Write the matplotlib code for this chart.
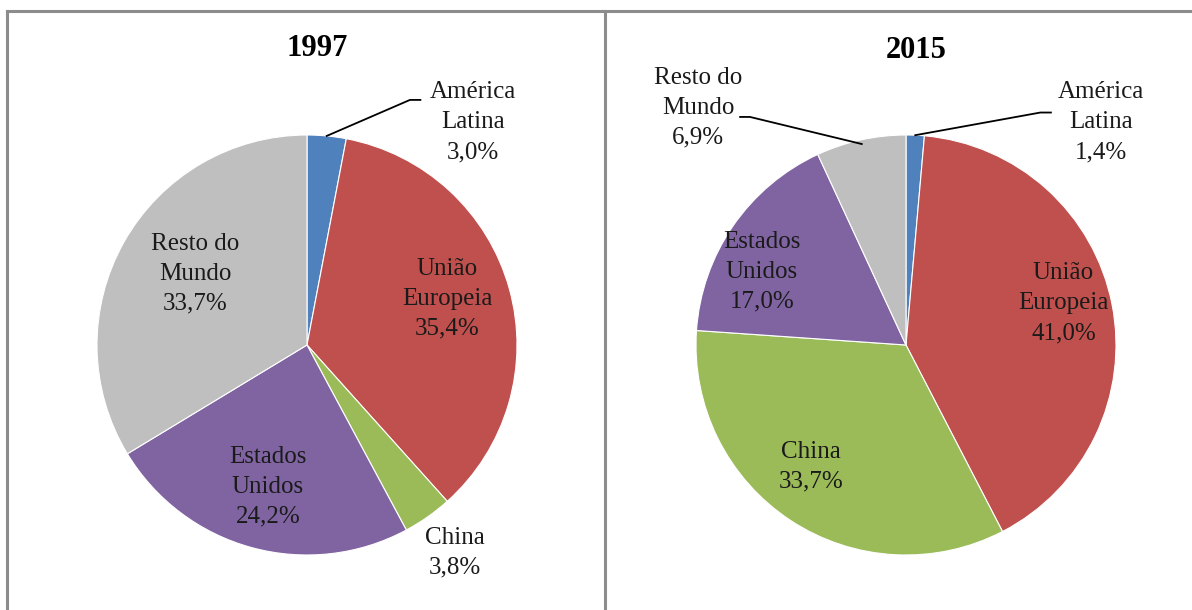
import numpy as np
import matplotlib.pyplot as plt
from matplotlib.lines import Line2D

plt.rcParams['font.family'] = ['Liberation Serif', 'DejaVu Serif']

# Data
categories = ['América\nLatina', 'União\nEuropeia', 'China', 'Estados\nUnidos', 'Resto do\nMundo']
values_1997 = [3.0, 35.4, 3.8, 24.2, 33.7]
values_2015 = [1.4, 41.0, 33.7, 17.0, 6.9]
pct_1997 = ['3,0%', '35,4%', '3,8%', '24,2%', '33,7%']
pct_2015 = ['1,4%', '41,0%', '33,7%', '17,0%', '6,9%']
colors = ['#4F81BD', '#C0504D', '#9BBB59', '#8064A2', '#BFBFBF']

W, H = 1192, 610
fig = plt.figure(figsize=(W / 100, H / 100), dpi=100)


def make_ax(cx, cy, r):
    return fig.add_axes([(cx - r) / W, (H - cy - r) / H, 2 * r / W, 2 * r / H])


ax1 = make_ax(307, 345, 210)
ax2 = make_ax(906, 345, 210)

for ax, vals in [(ax1, values_1997), (ax2, values_2015)]:
    ax.pie(vals, colors=colors, startangle=90, counterclock=False, radius=1,
           wedgeprops=dict(edgecolor='white', linewidth=0.8))
    ax.set_aspect('auto')
    ax.set_xlim(-1, 1)
    ax.set_ylim(-1, 1)
    ax.axis('off')

fs = 18

# label positions (in radius units) for each panel
pos_1997 = [(0.79, 1.06), (0.667, 0.22), (0.705, -0.99), (-0.186, -0.676), (-0.533, 0.34)]
pos_2015 = [(0.93, 1.06), (0.75, 0.2), (-0.452, -0.58), (-0.686, 0.35), (-0.99, 1.13)]

for ax, vals, pcts, pos in [(ax1, values_1997, pct_1997, pos_1997),
                            (ax2, values_2015, pct_2015, pos_2015)]:
    for cat, p, (x, y) in zip(categories, pcts, pos):
        ax.text(x, y, cat + '\n' + p, ha='center', va='center', fontsize=fs,
                linespacing=1.47, color='#1a1a1a')

# leader lines
def leader(ax, vals, idx, pts, rr=1.0):
    cum = np.cumsum([0] + vals)
    mid = 90 - 360 * (cum[idx] + cum[idx + 1]) / 2 / sum(vals)
    ex, ey = np.cos(np.radians(mid)), np.sin(np.radians(mid))
    xs = [ex * rr] + [p[0] for p in pts]
    ys = [ey * rr] + [p[1] for p in pts]
    ax.plot(xs, ys, color='black', lw=1.3, clip_on=False)


leader(ax1, values_1997, 0, [(0.49, 1.167), (0.54, 1.167)])
leader(ax2, values_2015, 0, [(0.64, 1.107), (0.69, 1.107)])
leader(ax2, values_2015, 4, [(-0.743, 1.086), (-0.79, 1.086)], rr=0.98)

ax1.text(0.05, 1.41, '1997', ha='center', va='center', fontsize=22, fontweight='bold')
ax2.text(0.05, 1.40, '2015', ha='center', va='center', fontsize=22, fontweight='bold')

# panel borders
gc = '#8c8c8c'
fig.add_artist(Line2D([7 / W, 1], [1 - 11 / H, 1 - 11 / H], color=gc, lw=2.2))
fig.add_artist(Line2D([7 / W, 7 / W], [0, 1 - 11 / H], color=gc, lw=2.2))
fig.add_artist(Line2D([605 / W, 605 / W], [0, 1 - 11 / H], color=gc, lw=2.2))

fig.savefig('out.png', dpi=100)
